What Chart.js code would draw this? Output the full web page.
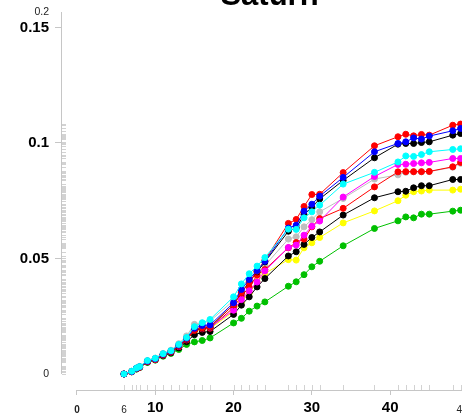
<!doctype html>
<html>
  <head>
    <title>Saturn</title>
    <script src="https://cdn.jsdelivr.net/npm/chart.js@4.4.1/dist/chart.umd.min.js"></script>
    <style>
      body { margin: 0; background: #fff; overflow: hidden; }
    </style>
  </head>
  <body>
    <canvas id="saturnChart" width="462" height="419"></canvas>
    <script>
      // sampling days, shared by every series
      var days = [6, 7, 7.6, 8, 9, 10, 11, 12, 13, 14, 15, 16, 17, 20, 21, 22, 23, 24,
                  27, 28, 29, 30, 31, 34, 38, 41, 42, 43, 44, 45, 48, 49];

      var cyanSeries = [0, .0012, .0026, .0032, .0058, .0068, .0088, .0101, .0128, .0158, .0205, .0222, .0236,
                        .0334, .0390, .0434, .0467, .0504, .0627, .0626, .0676, .0702, .0731, .0822, .0873,
                        .0918, .0944, .0942, .0950, .0962, .0972, .0975];
      var blueSeries = [0, .0011, .0025, .0031, .0056, .0066, .0086, .0099, .0125, .0155, .0198, .0210, .0212,
                        .0308, .0366, .0409, .0448, .0488, .0632, .0644, .0705, .0735, .0770, .0851, .0962,
                        .0998, .1005, .1022, .1017, .1030, .1053, .1063];
      var redSeries = [0, .0010, .0024, .0030, .0055, .0064, .0084, .0097, .0122, .0152, .0190, .0200, .0205,
                       .0300, .0352, .0395, .0445, .0492, .0652, .0669, .0725, .0777, .0778, .0872, .0988,
                       .1027, .1038, .1031, .1037, .1034, .1077, .1082];
      var blackSeries = [0, .0011, .0024, .0030, .0055, .0065, .0084, .0097, .0121, .0150, .0190, .0198, .0203,
                         .0300, .0352, .0398, .0442, .0485, .0618, .0632, .0690, .0722, .0758, .0838, .0936,
                         .0995, .0998, .0998, .1002, .1005, .1034, .1041];
      var graySeries = [0, .0012, .0026, .0033, .0058, .0069, .0089, .0103, .0131, .0165, .0215, .0220, .0230,
                        .0318, .0365, .0405, .0435, .0470, .0584, .0594, .0637, .0668, .0702, .0760, .0844,
                        .0862, .0873, .0875, .0875, .0876, .0895, .0912];
      var magentaSeries = [0, .0010, .0024, .0030, .0054, .0064, .0083, .0096, .0120, .0150, .0192, .0198, .0202,
                           .0276, .0322, .0360, .0398, .0446, .0548, .0558, .0601, .0640, .0662, .0766, .0855,
                           .0907, .0908, .0911, .0914, .0916, .0933, .0933];
      var red2Series = [0, .0010, .0023, .0029, .0053, .0063, .0082, .0095, .0118, .0147, .0188, .0195, .0198,
                        .0288, .0337, .0375, .0428, .0452, .0546, .0569, .0584, .0637, .0673, .0717, .0810,
                        .0875, .0876, .0876, .0876, .0877, .0897, .0916];
      var black2Series = [0, .0010, .0023, .0029, .0052, .0062, .0080, .0092, .0113, .0140, .0170, .0180, .0184,
                          .0258, .0298, .0334, .0377, .0413, .0511, .0529, .0561, .0591, .0615, .0688, .0763,
                          .0789, .0791, .0806, .0815, .0815, .0842, .0842];
      var yellowSeries = [0, .0011, .0024, .0030, .0054, .0064, .0082, .0095, .0118, .0146, .0185, .0193, .0197,
                          .0270, .0312, .0350, .0400, .0435, .0495, .0493, .0546, .0568, .0591, .0654, .0706,
                          .0750, .0774, .0789, .0792, .0796, .0796, .0800];
      var greenSeries = [0, .0009, .0021, .0028, .0050, .0060, .0077, .0089, .0106, .0128, .0139, .0145, .0156,
                         .0221, .0241, .0272, .0294, .0312, .0380, .0399, .0430, .0464, .0488, .0555, .0630,
                         .0663, .0680, .0676, .0692, .0692, .0705, .0709];

      // labelled ticks; the axis ends carry rounded end labels
      var xTicks = [0, 6, 10, 20, 30, 40];
      var xMajor = [10, 20, 30, 40];
      var xEndLabel = "49";
      var yTicks = [0, 0.05, 0.1, 0.15];
      var yEndLabel = "0.2";

      var X_MIN = -1.915, X_MAX = 49.18;
      var Y_MIN = -0.00693, Y_MAX = 0.15671;

      Chart.defaults.font.family = "Liberation Sans, Arial, sans-serif";

      function tickValue(c) {
        return c && c.tick ? c.tick.value : null;
      }

      function series(values, color) {
        return {
          data: days.map(function (d, i) { return { x: d, y: values[i] }; }),
          borderColor: color,
          backgroundColor: color,
          borderWidth: 1,
          pointRadius: 3,
          pointBorderWidth: 1,
          pointBorderColor: color,
          pointBackgroundColor: color,
          tension: 0,
        };
      }

      // axis lines that only cover the data range, plus rug marks
      var rangeFrame = {
        id: "rangeFrame",
        afterLayout: function (chart) {
          // centre the title over the x range that starts at 0
          if (chart.titleBlock) chart.titleBlock.left = chart.scales.x.getPixelForValue(0);
        },
        beforeDatasetsDraw: function (chart) {
          var ctx = chart.ctx;
          var x = chart.scales.x, y = chart.scales.y;
          ctx.save();
          ctx.lineWidth = 1;
          ctx.strokeStyle = "#c6c6c6";
          ctx.beginPath();
          ctx.moveTo(y.right - 0.5, y.getPixelForValue(0));
          ctx.lineTo(y.right - 0.5, y.getPixelForValue(Y_MAX));
          ctx.moveTo(x.getPixelForValue(0), x.top + 0.5);
          ctx.lineTo(x.right, x.top + 0.5);
          ctx.stroke();

          ctx.strokeStyle = "#d2d2d2";
          ctx.beginPath();
          chart.data.datasets.forEach(function (ds) {
            ds.data.forEach(function (p) {
              var py = Math.round(y.getPixelForValue(p.y)) + 0.5;
              ctx.moveTo(y.right, py);
              ctx.lineTo(y.right + 4, py);
            });
          });
          days.forEach(function (d) {
            var px = Math.round(x.getPixelForValue(d)) + 0.5;
            ctx.moveTo(px, x.top);
            ctx.lineTo(px, x.top - 5);
          });
          ctx.stroke();
          ctx.restore();
        },
      };

      var ctx = document.getElementById("saturnChart").getContext("2d");
      var saturnChart = new Chart(ctx, {
        type: "line",
        data: {
          datasets: [
            series(cyanSeries, "#00ffff"),
            series(blueSeries, "#0000ff"),
            series(redSeries, "#ff0000"),
            series(blackSeries, "#000000"),
            series(magentaSeries, "#ff00ff"),
            series(red2Series, "#ff0000"),
            series(graySeries, "#bebebe"),
            series(black2Series, "#000000"),
            series(yellowSeries, "#ffff00"),
            series(greenSeries, "#00c000"),
          ],
        },
        plugins: [rangeFrame],
        options: {
          responsive: false,
          animation: false,
          layout: { padding: 0, autoPadding: false },
          plugins: {
            legend: { display: false },
            tooltip: { enabled: false },
            title: {
              display: true,
              text: "Saturn",
              fullSize: false,
              color: "#000",
              font: { size: 31, weight: "bold", lineHeight: 1.2 },
              padding: { top: -22.3, bottom: -2.9 },
            },
          },
          scales: {
            x: {
              type: "linear",
              min: X_MIN,
              max: X_MAX,
              border: { display: false },
              grid: {
                drawOnChartArea: false,
                drawTicks: true,
                tickLength: 5,
                tickColor: function (c) {
                  var v = tickValue(c);
                  return v === 6 || v === X_MAX ? "rgba(0,0,0,0)" : "#c6c6c6";
                },
              },
              afterBuildTicks: function (s) {
                s.ticks = xTicks.concat([X_MAX]).map(function (v) { return { value: v }; });
              },
              afterFit: function (s) {
                s.height = 29;
                s.paddingLeft = 0;
                s.paddingRight = 0;
              },
              ticks: {
                autoSkip: false,
                maxRotation: 0,
                padding: 4,
                color: function (c) {
                  return xMajor.indexOf(tickValue(c)) >= 0 ? "#000" : "#222";
                },
                font: function (c) {
                  var v = tickValue(c);
                  if (v === null || xMajor.indexOf(v) >= 0) return { size: 15, weight: "bold", lineHeight: "18px" };
                  if (v === 0) return { size: 10, weight: "bold", lineHeight: "22px" };
                  return { size: 10, weight: "normal", lineHeight: "22px" };
                },
                callback: function (v) { return v === X_MAX ? xEndLabel : String(v); },
              },
            },
            y: {
              type: "linear",
              min: Y_MIN,
              max: Y_MAX,
              border: { display: false },
              grid: {
                drawOnChartArea: false,
                drawTicks: true,
                tickLength: 7,
                tickColor: function (c) {
                  var v = tickValue(c);
                  return v === 0 || v === Y_MAX ? "rgba(0,0,0,0)" : "#c6c6c6";
                },
              },
              afterBuildTicks: function (s) {
                s.ticks = yTicks.concat([Y_MAX]).map(function (v) { return { value: v }; });
              },
              afterFit: function (s) {
                s.width = 62;
                s.paddingTop = 0;
                s.paddingBottom = 0;
              },
              ticks: {
                autoSkip: false,
                padding: 6,
                color: function (c) {
                  var v = tickValue(c);
                  return v === 0 || v === Y_MAX ? "#222" : "#000";
                },
                font: function (c) {
                  var v = tickValue(c);
                  if (v === 0 || v === Y_MAX) return { size: 10.5, weight: "normal" };
                  return { size: 15, weight: "bold" };
                },
                callback: function (v) { return v === Y_MAX ? yEndLabel : String(v); },
              },
            },
          },
        },
      });
    </script>
  </body>
</html>
